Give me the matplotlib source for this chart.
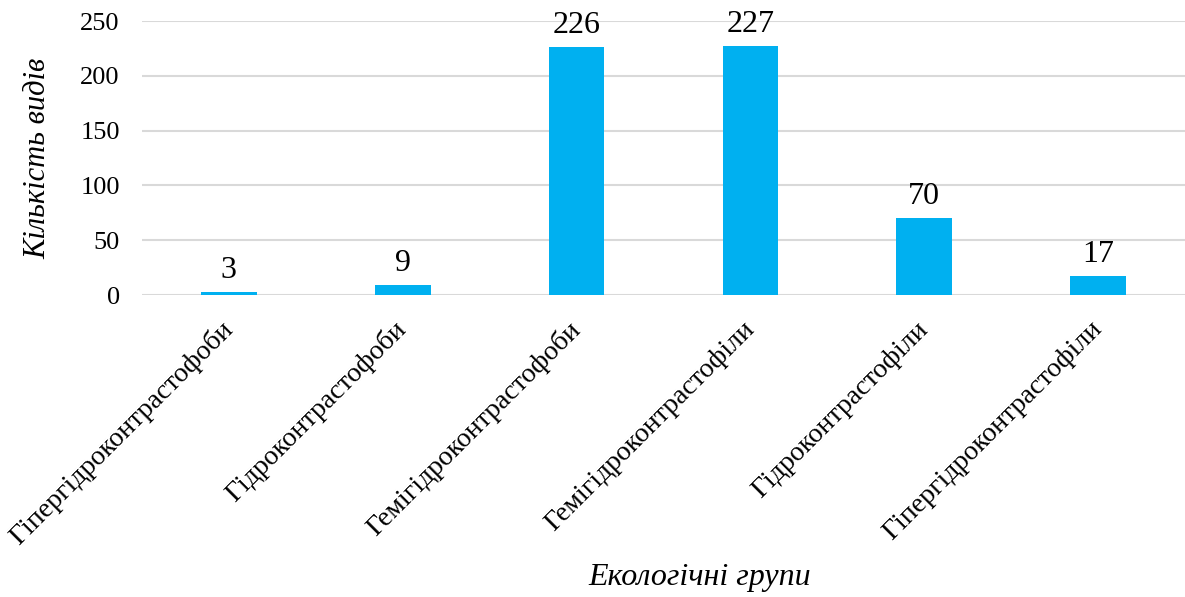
import matplotlib.pyplot as plt

# Екологічні групи та кількість видів
groups = ['Гіпергідроконтрастофоби', 'Гідроконтрастофоби', 'Гемігідроконтрастофоби',
          'Гемігідроконтрастофіли', 'Гідроконтрастофіли', 'Гіпергідроконтрастофіли']
counts = [3, 9, 226, 227, 70, 17]
y_ticks = [0, 50, 100, 150, 200, 250]

plt.rcParams['font.family'] = ['Liberation Serif', 'DejaVu Serif']

fig = plt.figure(figsize=(11.85, 5.97), dpi=100)
ax = fig.add_axes([142 / 1185, 1 - 295 / 597, 1 - 142 / 1185, (295 - 21) / 597])

x = range(len(groups))
bars = ax.bar(x, counts, width=0.32, color='#00B0F0', zorder=3)

for b, v in zip(bars, counts):
    ax.annotate(str(v), (b.get_x() + b.get_width() / 2, v), xytext=(0, 5),
                textcoords='offset points', ha='center', va='bottom', fontsize=23)

ax.set_xlim(-0.5, len(groups) - 0.5)
ax.set_ylim(0, 250)
ax.set_yticks(y_ticks)
ax.tick_params(axis='y', length=0, labelsize=19, pad=16)
ax.tick_params(axis='x', length=0, labelsize=20, pad=22)
ax.set_xticks(list(x))
ax.set_xticklabels(groups, rotation=45, ha='right', va='center', rotation_mode='anchor')
ax.grid(axis='y', color='#D9D9D9', linewidth=1.5, zorder=0)
for s in ax.spines.values():
    s.set_visible(False)

ax.set_ylabel('Кількість видів', fontsize=22, style='italic', labelpad=20)
fig.text(700 / 1185, 1 - 578 / 597, 'Екологічні групи', fontsize=23, style='italic',
         ha='center', va='center')

fig.savefig('out.png', dpi=100)
